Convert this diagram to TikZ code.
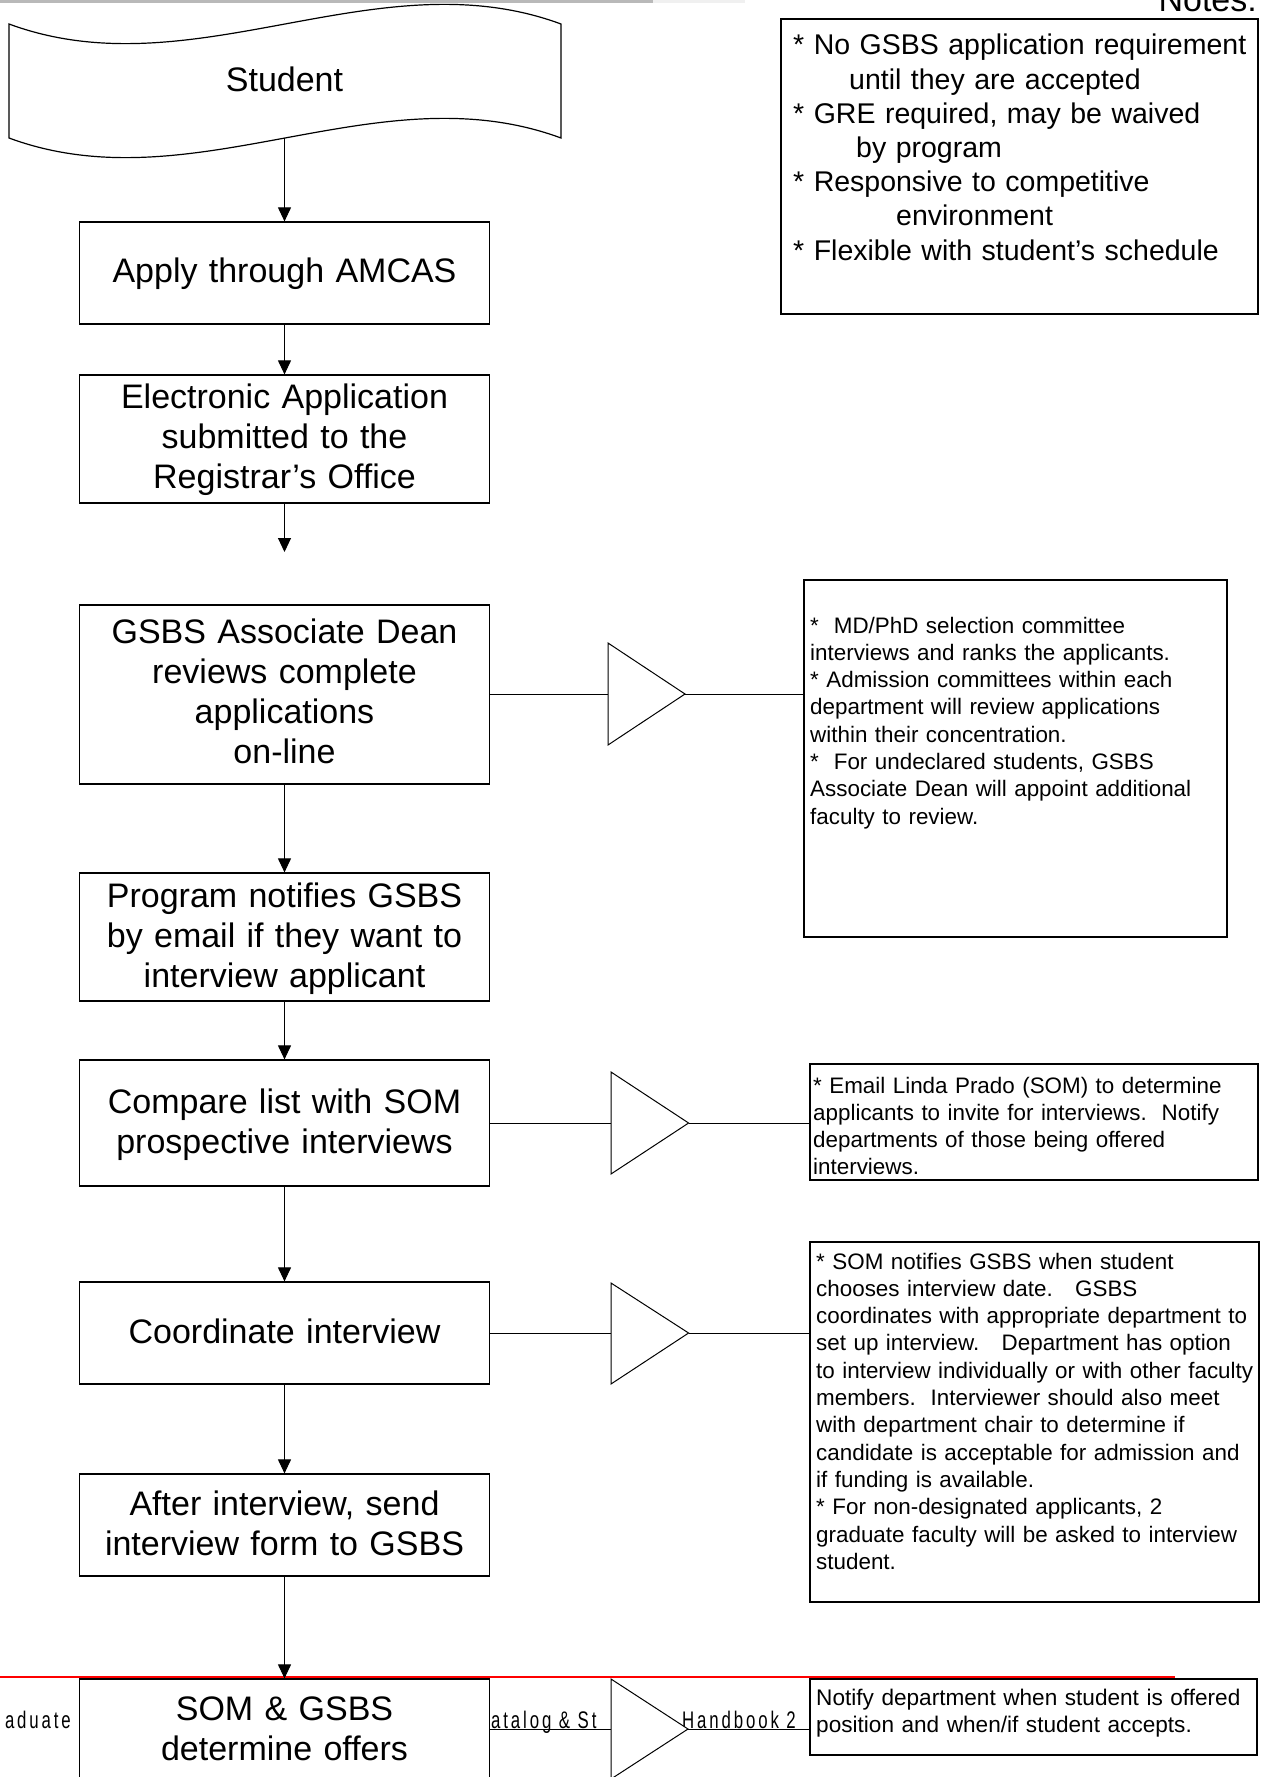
\documentclass[tikz,border=0pt]{standalone}
\usepackage{fontspec}
\setmainfont{Liberation Sans}
\newfontfamily\footfont[FakeStretch=0.7,LetterSpace=12]{Liberation Sans}
\usetikzlibrary{arrows.meta}
\tikzset{
  flowbox/.style={draw=black, line width=1.2pt, fill=white, minimum width=410, minimum height=#1, inner sep=0, anchor=center},
  notebox/.style={draw=black, line width=1.2pt, fill=white, inner sep=0, anchor=center},
  maintext/.style={font=\fontsize{34}{40}\selectfont, text width=420, align=center, inner sep=0, anchor=base},
  notetext/.style={font=\fontsize{22.4}{27.3}\selectfont, text width=445, align=left, inner sep=0, anchor=base west},
  topnote/.style={font=\fontsize{28.5}{34.2}\selectfont, text width=460, align=left, inner sep=0, anchor=base west},
  foot/.style={font=\footfont\fontsize{24}{28}\selectfont, text=black, inner sep=0},
  arr/.style={line width=1pt, -{Triangle[length=14pt,width=13pt]}},
  conn/.style={line width=1pt},
  tri/.style={draw=black, line width=1pt, fill=white},
}
\begin{document}
\begin{tikzpicture}[x=1pt,y=1pt]
\useasboundingbox (0,0) rectangle (1264,-1777);
\fill[white] (0,0) rectangle (1264,-1777);
% top bar
\fill[gray!55] (0,0) rectangle (653,-3.5);
\fill[gray!12] (653,0) rectangle (745,-3);

% footer fragments (behind shapes)
\node[foot, anchor=base east] (fa) at (71,-1728) {aduate};
\node[foot, anchor=base west] (fb) at (491,-1728) {atalog \& St};
\node[foot, anchor=base west] (fc) at (682,-1728) {Handbook 2};
\draw[red, line width=1.5pt] (0,-1677) -- (1175,-1677);

% Student (punched tape)
\draw[line width=1.2pt, fill=white] (9,-24) .. controls (193,-92) and (377,44) .. (561,-24)
  -- (561,-138) .. controls (377,-70) and (193,-206) .. (9,-138) -- cycle;
\node[maintext] (student) at (284.5,-92) {Student};
\coordinate (stuB) at (284.5,-138);

% main boxes
\node[flowbox=102] (apply) at (284.5,-273) {};
\node[maintext] (applyT) at (284.5,-282) {Apply through AMCAS};

\node[flowbox=128] (elec) at (284.5,-439) {};
\node[maintext] (elecT) at (284.5,-408) {Electronic Application\\submitted to the\\Registrar’s Office};
\coordinate (elecEnd) at (284.5,-552);

\node[flowbox=179] (gsbs) at (284.5,-694.5) {};
\node[maintext] (gsbsT) at (284.5,-643) {GSBS Associate Dean\\reviews complete\\applications\\on-line};

\node[flowbox=128] (prog) at (284.5,-937) {};
\node[maintext] (progT) at (284.5,-907) {Program notifies GSBS\\by email if they want to\\interview applicant};

\node[flowbox=126] (comp) at (284.5,-1123) {};
\node[maintext] (compT) at (284.5,-1113) {Compare list with SOM\\prospective interviews};

\node[flowbox=102] (coord) at (284.5,-1333) {};
\node[maintext] (coordT) at (284.5,-1343) {Coordinate interview};

\node[flowbox=102] (after) at (284.5,-1525) {};
\node[maintext] (afterT) at (284.5,-1515) {After interview, send\\interview form to GSBS};

\node[flowbox=120] (som) at (284.5,-1739) {};
\node[maintext] (somT) at (284.5,-1720) {SOM \& GSBS\\determine offers};

% vertical arrows
\draw[arr] (stuB) -- (apply.north);
\draw[arr] (apply.south) -- (elec.north);
\draw[arr] (elec.south) -- (elecEnd);
\draw[arr] (gsbs.south) -- (prog.north);
\draw[arr] (prog.south) -- (comp.north);
\draw[arr] (comp.south) -- (coord.north);
\draw[arr] (coord.south) -- (after.north);
\draw[arr] (after.south) -- (som.north);

% Notes box (top right)
\node[font=\fontsize{34}{40}\selectfont, anchor=base east, inner sep=0] (notesH) at (1257,-12) {Notes:};
\node[draw=black, line width=2pt, minimum width=477, minimum height=295, inner sep=0] (notes) at (1019.5,-166.5) {};
\node[topnote] (notesT) at (793,-55) {* No GSBS application requirement\\{}%
\hspace*{56pt}until they are accepted\\{}%
* GRE required, may be waived\\{}%
\hspace*{63pt}by program\\{}%
* Responsive to competitive\\{}%
\hspace*{103pt}environment\\{}%
* Flexible with student’s schedule};

% side note 1
\node[notebox, minimum width=423, minimum height=357] (n1) at (1015.5,-758.5) {};
\node[notetext] (n1T) at (810,-633) {*\ \ MD/PhD selection committee\\{}interviews and ranks the applicants.\\{}* Admission committees within each\\{}department will review applications\\{}within their concentration.\\{}*\ \ For undeclared students, GSBS\\{}Associate Dean will appoint additional\\{}faculty to review.};
\draw[tri] (608,-643) -- (685,-694) -- (608,-745) -- cycle;
\coordinate (t1w) at (608,-694);
\coordinate (t1a) at (685,-694);
\draw[conn] (t1w -| gsbs.east) -- (t1w);
\draw[conn] (t1a) -- (t1a -| n1.west);

% side note 2
\node[notebox, minimum width=448, minimum height=116] (n2) at (1034,-1122) {};
\node[notetext] (n2T) at (813,-1093) {* Email Linda Prado (SOM) to determine\\{}applicants to invite for interviews.\ \ Notify\\{}departments of those being offered\\{}interviews.};
\draw[tri] (611,-1072) -- (688.6,-1123) -- (611,-1174) -- cycle;
\coordinate (t2w) at (611,-1123);
\coordinate (t2a) at (688.6,-1123);
\draw[conn] (t2w -| comp.east) -- (t2w);
\draw[conn] (t2a) -- (t2a -| n2.west);

% side note 3
\node[notebox, minimum width=449, minimum height=360] (n3) at (1034.5,-1422) {};
\node[notetext] (n3T) at (816,-1269) {* SOM notifies GSBS when student\\{}chooses interview date.\ \ \ GSBS\\{}coordinates with appropriate department to\\{}set up interview.\ \ \ Department has option\\{}to interview individually or with other faculty\\{}members.\ \ Interviewer should also meet\\{}with department chair to determine if\\{}candidate is acceptable for admission and\\{}if funding is available.\\{}* For non-designated applicants, 2\\{}graduate faculty will be asked to interview\\{}student.};
\draw[tri] (611,-1283) -- (688.6,-1333) -- (611,-1384) -- cycle;
\coordinate (t3w) at (611,-1333);
\coordinate (t3a) at (688.6,-1333);
\draw[conn] (t3w -| coord.east) -- (t3w);
\draw[conn] (t3a) -- (t3a -| n3.west);

% side note 4 (bottom)
\draw[tri] (611,-1679) -- (688,-1729) -- (611,-1779) -- cycle;
\coordinate (t4w) at (611,-1729);
\coordinate (t4a) at (688,-1729);
\node[notebox, minimum width=447, minimum height=76] (n4) at (1033.5,-1717) {};
\node[notetext, font=\fontsize{22.6}{27}\selectfont] (n4T) at (816,-1705) {Notify department when student is offered\\{}position and when/if student accepts.};
\draw[conn] (t4w -| som.east) -- (t4w);
\draw[conn] (t4a) -- (t4a -| n4.west);
\end{tikzpicture}
\end{document}
